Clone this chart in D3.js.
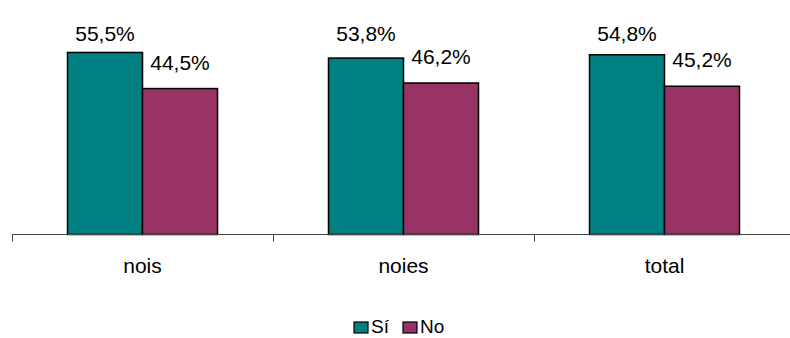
<!DOCTYPE html>
<html>
<head>
<meta charset="utf-8">
<script src="https://cdn.jsdelivr.net/npm/d3@7"></script>
<style>
  body { margin: 0; background: #fff; }
  text { font-family: "Liberation Sans", Arial, sans-serif; fill: #000; }
</style>
</head>
<body>
<div id="chart"></div>
<script>
// Data
var categories = ["nois", "noies", "total"];
var seriesNames = ["Sí", "No"];
var valuesSi = [55.5, 53.8, 54.8];
var valuesNo = [44.5, 46.2, 45.2];
var labelsSi = ["55,5%", "53,8%", "54,8%"];
var labelsNo = ["44,5%", "46,2%", "45,2%"];

var colors = {"Sí": "#008080", "No": "#993366"};

var width = 790, height = 338;
var baseY = 234.5;
var labelGap = 19;   // gap between bar top and label baseline
var labelMinY = 41;  // labels are kept inside the plot area

var svg = d3.select("#chart").append("svg")
    .attr("width", width)
    .attr("height", height);

// Scales
var x0 = d3.scaleBand()
    .domain(categories)
    .range([12, 795])
    .paddingInner(0)
    .paddingOuter(0);

var x1 = d3.scaleBand()
    .domain(seriesNames)
    .range([0, x0.bandwidth()])
    .paddingInner(0)
    .paddingOuter(0.74);

var y = d3.scaleLinear()
    .domain([0, 71.5])
    .range([baseY, 0]);

// reorganise into rows for drawing
var rows = [];
categories.forEach(function(c, i) {
    rows.push({cat: c, key: "Sí", value: valuesSi[i], label: labelsSi[i]});
    rows.push({cat: c, key: "No", value: valuesNo[i], label: labelsNo[i]});
});

// Bars
svg.append("g")
    .selectAll("rect")
    .data(rows)
    .enter()
    .append("rect")
    .attr("x", function(d) { return x0(d.cat) + x1(d.key); })
    .attr("y", function(d) { return y(d.value); })
    .attr("width", x1.bandwidth())
    .attr("height", function(d) { return y(0) - y(d.value); })
    .style("fill", function(d) { return colors[d.key]; })
    .style("stroke", "#000")
    .style("stroke-width", 1.5);

// Value labels
svg.append("g")
    .selectAll("text")
    .data(rows)
    .enter()
    .append("text")
    .attr("x", function(d) { return x0(d.cat) + x1(d.key) + x1.bandwidth() / 2; })
    .attr("y", function(d) { return Math.max(y(d.value) - labelGap, labelMinY); })
    .style("text-anchor", "middle")
    .style("font-size", "21px")
    .text(function(d) { return d.label; });

// Category axis: line + ticks at band boundaries
var gx = svg.append("g").attr("class", "x-axis");
gx.append("line")
    .attr("x1", x0.range()[0])
    .attr("x2", width)
    .attr("y1", y(0))
    .attr("y2", y(0))
    .style("stroke", "#444")
    .style("stroke-width", 1);

var tickPos = categories.map(function(c) { return x0(c); });
gx.selectAll(".tick")
    .data(tickPos)
    .enter()
    .append("line")
    .attr("class", "tick")
    .attr("x1", function(d) { return Math.round(d) + 0.5; })
    .attr("x2", function(d) { return Math.round(d) + 0.5; })
    .attr("y1", y(0))
    .attr("y2", y(0) + 7)
    .style("stroke", "#444")
    .style("stroke-width", 1);

gx.selectAll(".cat-label")
    .data(categories)
    .enter()
    .append("text")
    .attr("class", "cat-label")
    .attr("x", function(d) { return x0(d) + x0.bandwidth() / 2; })
    .attr("y", 273)
    .style("text-anchor", "middle")
    .style("font-size", "21px")
    .text(function(d) { return d; });

// Legend (kept just inside the bottom edge)
var legend = svg.append("g")
    .attr("transform", "translate(354, 322)");
var legendX = [0, 49];
var item = legend.selectAll("g")
    .data(seriesNames)
    .enter()
    .append("g")
    .attr("transform", function(d, i) { return "translate(" + legendX[i] + ",0)"; });
item.append("rect")
    .attr("width", 14)
    .attr("height", 11)
    .style("fill", function(d) { return colors[d]; })
    .style("stroke", "#000")
    .style("stroke-width", 1.2);
item.append("text")
    .attr("x", 17)
    .attr("y", 11)
    .style("font-size", "19px")
    .text(function(d) { return d; });
</script>
</body>
</html>
